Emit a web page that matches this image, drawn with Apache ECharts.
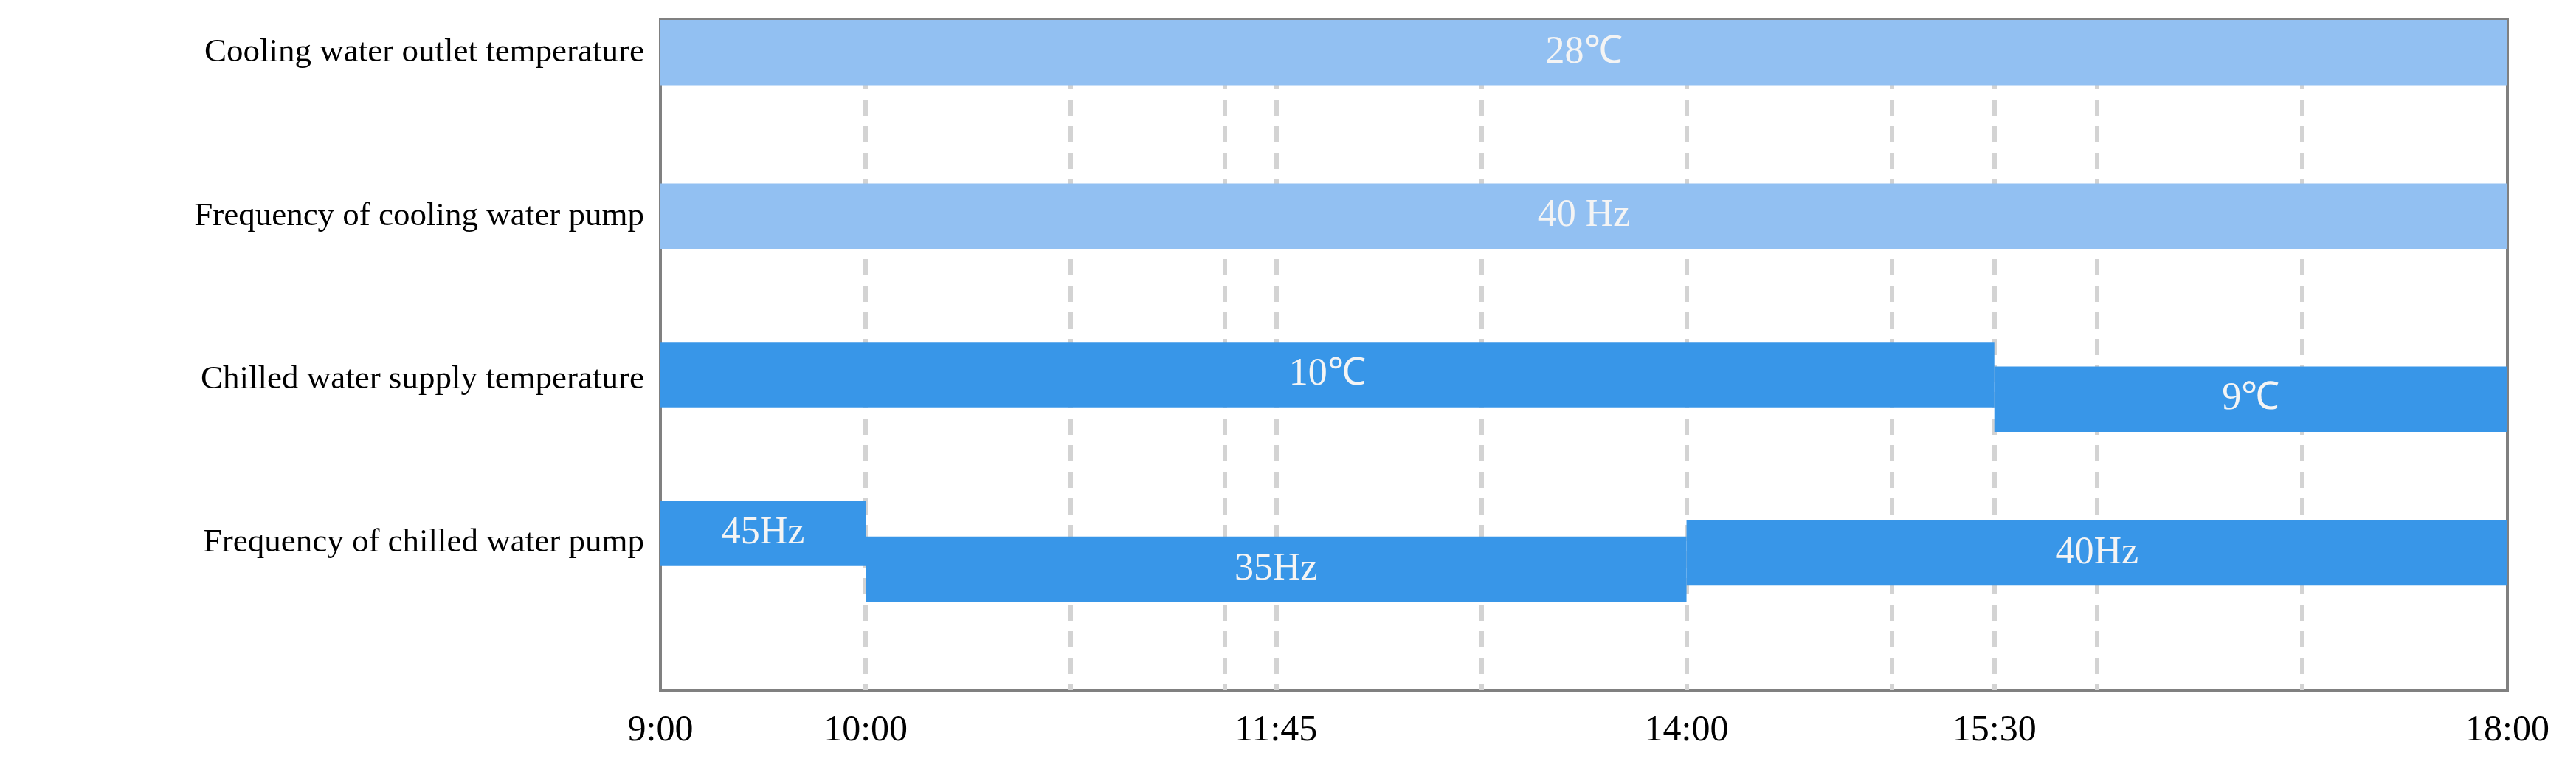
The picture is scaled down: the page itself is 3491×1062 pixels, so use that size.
<!DOCTYPE html>
<html><head><meta charset="utf-8">
<script src="https://cdn.jsdelivr.net/npm/echarts@6/dist/echarts.min.js"></script>
<style>html,body{margin:0;padding:0;background:#fff}#c{width:3491px;height:1062px}</style>
</head><body><div id="c"></div>
<script>
// time in minutes after 9:00
const xTickLabels = {0:'9:00',60:'10:00',180:'11:45',300:'14:00',390:'15:30',540:'18:00'};
const rowLabels = {2:'Cooling water outlet temperature',12:'Frequency of cooling water pump',22:'Chilled water supply temperature',32:'Frequency of chilled water pump'};
const dashedTimes = [60,120,165,180,240,300,360,390,420,480];
// segments: [start, end, level, label, colourIndex]
const segStart = [0,0,0,390,0,60,300];
const segEnd   = [540,540,390,540,60,300,540];
const segLevel = [0.2,1.2,2.17,2.32,3.14,3.36,3.26];
const segLabel = ['28℃','40 Hz','10℃','9℃','45Hz','35Hz','40Hz'];
const segKind  = [0,0,1,1,1,1,1];
const colours = ['#92C0F2','#3896E8'];
const barH = 0.4;

const data = segStart.map((s,i)=>[s,segEnd[i],segLevel[i],segLabel[i],segKind[i]]);
const chart = echarts.init(document.getElementById('c'));
chart.setOption({
  animation:false,
  grid:{left:895,right:93,top:27,bottom:127,show:true,borderColor:'#808080',borderWidth:4,backgroundColor:'transparent'},
  xAxis:{type:'value',min:0,max:540,interval:15,
    axisLine:{show:false},axisTick:{show:false},splitLine:{show:false},
    axisLabel:{margin:30,fontFamily:'Liberation Serif',fontSize:50,color:'#000',
      formatter:v=>xTickLabels[Math.round(v)]||''}},
  yAxis:{type:'value',min:0,max:4.1,interval:0.1,inverse:true,
    axisLine:{show:false},axisTick:{show:false},splitLine:{show:false},
    axisLabel:{margin:22,fontFamily:'Liberation Serif',fontSize:45,color:'#000',
      formatter:v=>rowLabels[Math.round(v*10)]||''}},
  series:[
    {type:'line',data:[],markLine:{silent:true,symbol:'none',label:{show:false},
      lineStyle:{type:[22,14],color:'#d3d3d3',width:6},
      data:dashedTimes.map(t=>({xAxis:t}))}},
    {type:'custom',data:data,z:5,
      renderItem:(params,api)=>{
        const s=api.value(0),e=api.value(1),lv=api.value(2);
        const p1=api.coord([s,lv-barH/2]),p2=api.coord([e,lv+barH/2]);
        const k=data[params.dataIndex][4];
        return {type:'rect',shape:{x:p1[0],y:p1[1],width:p2[0]-p1[0],height:p2[1]-p1[1]},
          style:{fill:colours[k],text:data[params.dataIndex][3],textFill:'#f4f4f4',
            fontFamily:'Liberation Serif',fontSize:52,textPosition:'inside'},
          textContent:{style:{text:data[params.dataIndex][3],fill:'#f4f4f4',font:'52px "Liberation Serif"'}},
          textConfig:{position:'inside'}};
      }}
  ]
});
</script></body></html>
